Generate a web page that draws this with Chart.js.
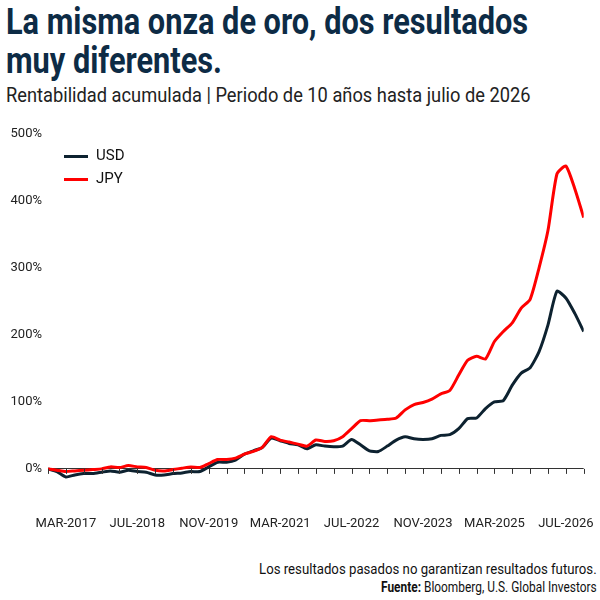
<!DOCTYPE html>
<html><head><meta charset="utf-8">
<script src="https://cdn.jsdelivr.net/npm/chart.js@4"></script>
<style>
body{margin:0;width:600px;height:600px;background:#fff;position:relative;overflow:hidden;font-family:Roboto,sans-serif;color:#111}
.sq{white-space:nowrap;transform-origin:left top;position:absolute}
#t{left:6px;top:2px;font-size:37px;font-weight:bold;line-height:39px;color:#0d2b45;transform:scaleX(0.83)}
#s{left:6px;top:83px;font-size:21px;color:#222;transform:scaleX(0.87)}
#wrap{position:absolute;left:0;top:120px;width:600px;height:420px}
#lg{left:64px;top:144px;font-size:15px;line-height:23px}
#lg span{display:inline-block;width:24px;height:3px;vertical-align:middle;margin-right:8px}
#f1{right:3px;top:560px;font-size:15px;transform-origin:right top;transform:scaleX(0.88)}
#f2{right:3px;top:579px;font-size:14px;transform-origin:right top;transform:scaleX(0.85)}
</style></head><body>
<div id="t" class="sq">La misma onza de oro, dos resultados<br>muy diferentes.</div>
<div id="s" class="sq">Rentabilidad acumulada | Periodo de 10 años hasta julio de 2026</div>
<div id="wrap"><canvas id="chart" width="600" height="420"></canvas></div>
<div id="lg" class="sq"><div><span style="background:#0d2230"></span>USD</div><div><span style="background:#ff0000"></span>JPY</div></div>
<div id="f1" class="sq">Los resultados pasados no garantizan resultados futuros.</div>
<div id="f2" class="sq"><b>Fuente:</b> Bloomberg, U.S. Global Investors</div>
<script>
// months relative to MAR-2017, sampled every 2 months
const startMonth = -3;
const usd = [0,-4,-12,-9,-7,-7,-5,-3,-5,-2,-4,-5,-9,-9,-7,-6,-4,-4,3,10,10,13,22,27,32,46,42,38,36,30,36,34,33,34,44,36,27,26,34,43,48,45,44,45,50,51,60,75,76,90,100,102,125,143,151,175,215,265,255,232,205];
const jpy = [0,-2,-4,-3,-2,-1,0,3,2,5,3,2,-2,-3,-1,1,3,2,8,14,14,16,22,26,32,48,43,40,37,34,43,41,42,48,60,72,72,73,74,76,88,96,99,104,112,117,140,162,168,164,190,205,218,240,253,300,356,440,452,418,375];
const tickLabels = {1:'MAR-2017',17:'JUL-2018',33:'NOV-2019',49:'MAR-2021',65:'JUL-2022',81:'NOV-2023',97:'MAR-2025',113:'JUL-2026'};

const pts = arr => arr.map((v, i) => ({x: startMonth + 2 * i, y: v}));

const zeroTicks = {
  id: 'zeroTicks',
  afterDatasetsDraw(c) {
    const x = c.scales.x, y = c.scales.y, g = c.ctx;
    const y0 = y.getPixelForValue(0);
    g.save();
    g.strokeStyle = '#333';
    g.lineWidth = 1;
    for (let m = -3; m <= 117; m += 4) {
      const px = Math.round(x.getPixelForValue(m)) + 0.5;
      g.beginPath(); g.moveTo(px, y0); g.lineTo(px, y0 + 5); g.stroke();
    }
    g.restore();
  }
};

const font = {family: 'Roboto', size: 13};

new Chart(document.getElementById('chart'), {
  type: 'line',
  data: {datasets: [
    {label: 'JPY', data: pts(jpy), borderColor: '#ff0000', borderWidth: 3, pointRadius: 0, tension: 0.2},
    {label: 'USD', data: pts(usd), borderColor: '#0d2230', borderWidth: 3, pointRadius: 0, tension: 0.2}
  ]},
  options: {
    animation: false, responsive: false,
    layout: {padding: {top: 6, right: 13, left: 0, bottom: 2}},
    plugins: {legend: {display: false}, tooltip: {enabled: false}},
    scales: {
      x: {type: 'linear', min: -3, max: 117,
        afterBuildTicks: s => { s.ticks = Object.keys(tickLabels).map(k => ({value: +k})); },
        ticks: {callback: v => tickLabels[v] || '', maxRotation: 0, autoSkip: false, color: '#222', font: font, padding: 6},
        grid: {display: false}, border: {display: false}},
      y: {min: -50, max: 500, afterFit: s => { s.width = 48; },
        ticks: {stepSize: 100, callback: v => v >= 0 ? v + '%' : '', color: '#222', font: font, padding: 6},
        grid: {drawTicks: false, color: c => c.tick.value === 0 ? '#333' : 'rgba(0,0,0,0)'},
        border: {display: false}}
    }
  },
  plugins: [zeroTicks]
});
</script>
</body></html>
